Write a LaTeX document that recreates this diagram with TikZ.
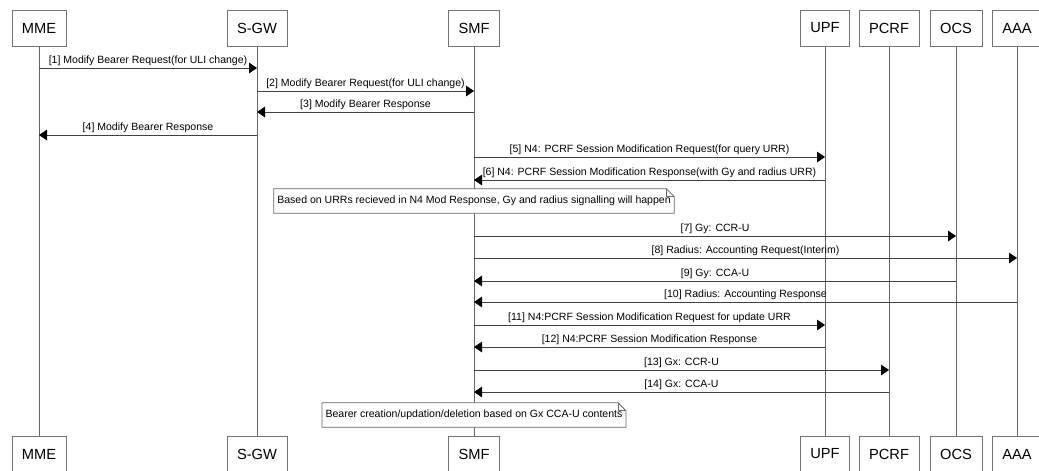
\documentclass[tikz,border=0pt]{standalone}
\usepackage{fontspec}
\setmainfont{Liberation Sans}
\usetikzlibrary{arrows.meta}

\tikzset{
    actor/.style={draw=black!55, fill=white, minimum height=27pt, inner xsep=7.5pt,
            font=\fontsize{11}{13}\selectfont},
    life/.style={draw=black!60, line width=0.6pt},
    msg/.style={draw=black!75, line width=0.6pt, -{Triangle[length=6pt, width=8pt, black]}},
    lbl/.style={above, inner sep=1.5pt, font=\fontsize{7.9}{9}\selectfont},
    notebox/.style={fill=white, inner xsep=2.5pt, minimum height=18pt,
            font=\fontsize{7.9}{9}\selectfont},
    noteline/.style={draw=black!60, line width=0.6pt},
}

\begin{document}
\begin{tikzpicture}[x=0.75pt, y=-0.75pt]
        \useasboundingbox (0, 0) rectangle (1039, 471);
        % actors with their lifelines
        \foreach \n/\t/\x in {mme/MME/39, sgw/S-GW/257, smf/SMF/474, upf/UPF/825,
                pcrf/PCRF/889, ocs/OCS/956, aaa/AAA/1017} {
                \node[actor] (\n) at (\x, 28) {\t};
                \node[actor] (\n-b) at (\x, 454) {\t};
                \draw[life] (\n) -- (\n-b);
            }
        % messages
        \foreach \a/\b/\y/\t in {
                mme/sgw/68/{[1] Modify Bearer Request(for ULI change)},
                sgw/smf/91/{[2] Modify Bearer Request(for ULI change)},
                smf/sgw/112/{[3] Modify Bearer Response},
                sgw/mme/135/{[4] Modify Bearer Response},
                smf/upf/157/{[5] N4: PCRF Session Modification Request(for query URR)},
                upf/smf/180/{[6] N4: PCRF Session Modification Response(with Gy and radius URR)},
                smf/ocs/236/{[7] Gy: CCR-U},
                smf/aaa/258/{[8] Radius: Accounting Request(Interim)},
                ocs/smf/281/{[9] Gy: CCA-U},
                aaa/smf/302/{[10] Radius: Accounting Response},
                smf/upf/325/{[11] N4:PCRF Session Modification Request for update URR},
                upf/smf/347/{[12] N4:PCRF Session Modification Response},
                smf/pcrf/370/{[13] Gx: CCR-U},
                pcrf/smf/392/{[14] Gx: CCA-U}} {
                \draw[msg] (\a |- 0, \y) -- node[lbl] (m\y) {\t} (\b |- 0, \y);
            }
        % notes
        \node[notebox] (note1) at (474, 201)
            {Based on URRs recieved in N4 Mod Response, Gy and radius signalling will happen};
        \node[notebox] (note2) at (474, 415)
            {Bearer creation/updation/deletion based on Gx CCA-U contents};
        \foreach \n in {note1, note2} {
                \draw[noteline] (\n.north west) -- ([xshift=-6pt]\n.north east)
                    -- ([yshift=-6pt]\n.north east) -- (\n.south east)
                    -- (\n.south west) -- cycle;
                \draw[noteline] ([xshift=-6pt]\n.north east)
                    -- ([xshift=-6pt, yshift=-6pt]\n.north east)
                    -- ([yshift=-6pt]\n.north east);
            }
    \end{tikzpicture}
\end{document}
